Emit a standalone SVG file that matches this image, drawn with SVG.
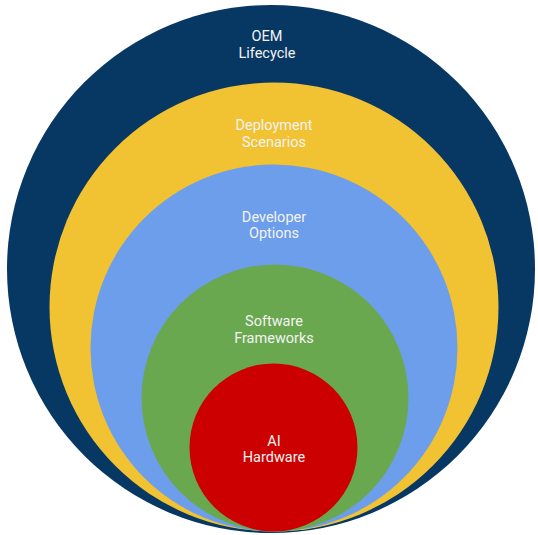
<svg xmlns="http://www.w3.org/2000/svg" width="538" height="535" viewBox="0 0 538 535">
<style>
text{font-family:Roboto,"Liberation Sans",sans-serif;font-size:14.5px;fill:#f3f3f3;text-anchor:middle}
</style>
<rect width="538" height="535" fill="#ffffff"/>
<g id="oem"><circle cx="271" cy="269" r="264" fill="#073763"/><text x="267" y="41">OEM</text><text x="267" y="58">Lifecycle</text></g>
<g id="deployment"><circle cx="274" cy="307" r="224.5" fill="#f1c232"/><text x="274" y="130">Deployment</text><text x="274" y="147">Scenarios</text></g>
<g id="developer"><circle cx="274" cy="348" r="183.5" fill="#6d9eeb"/><text x="274" y="222">Developer</text><text x="274" y="238">Options</text></g>
<g id="software"><circle cx="275" cy="398" r="133.5" fill="#6aa84f"/><text x="274" y="326">Software</text><text x="274" y="343">Frameworks</text></g>
<g id="hardware"><circle cx="273.5" cy="447.5" r="84" fill="#cc0000"/><text x="274" y="446">AI</text><text x="274" y="462">Hardware</text></g>
<g id="connectors"></g>
</svg>
